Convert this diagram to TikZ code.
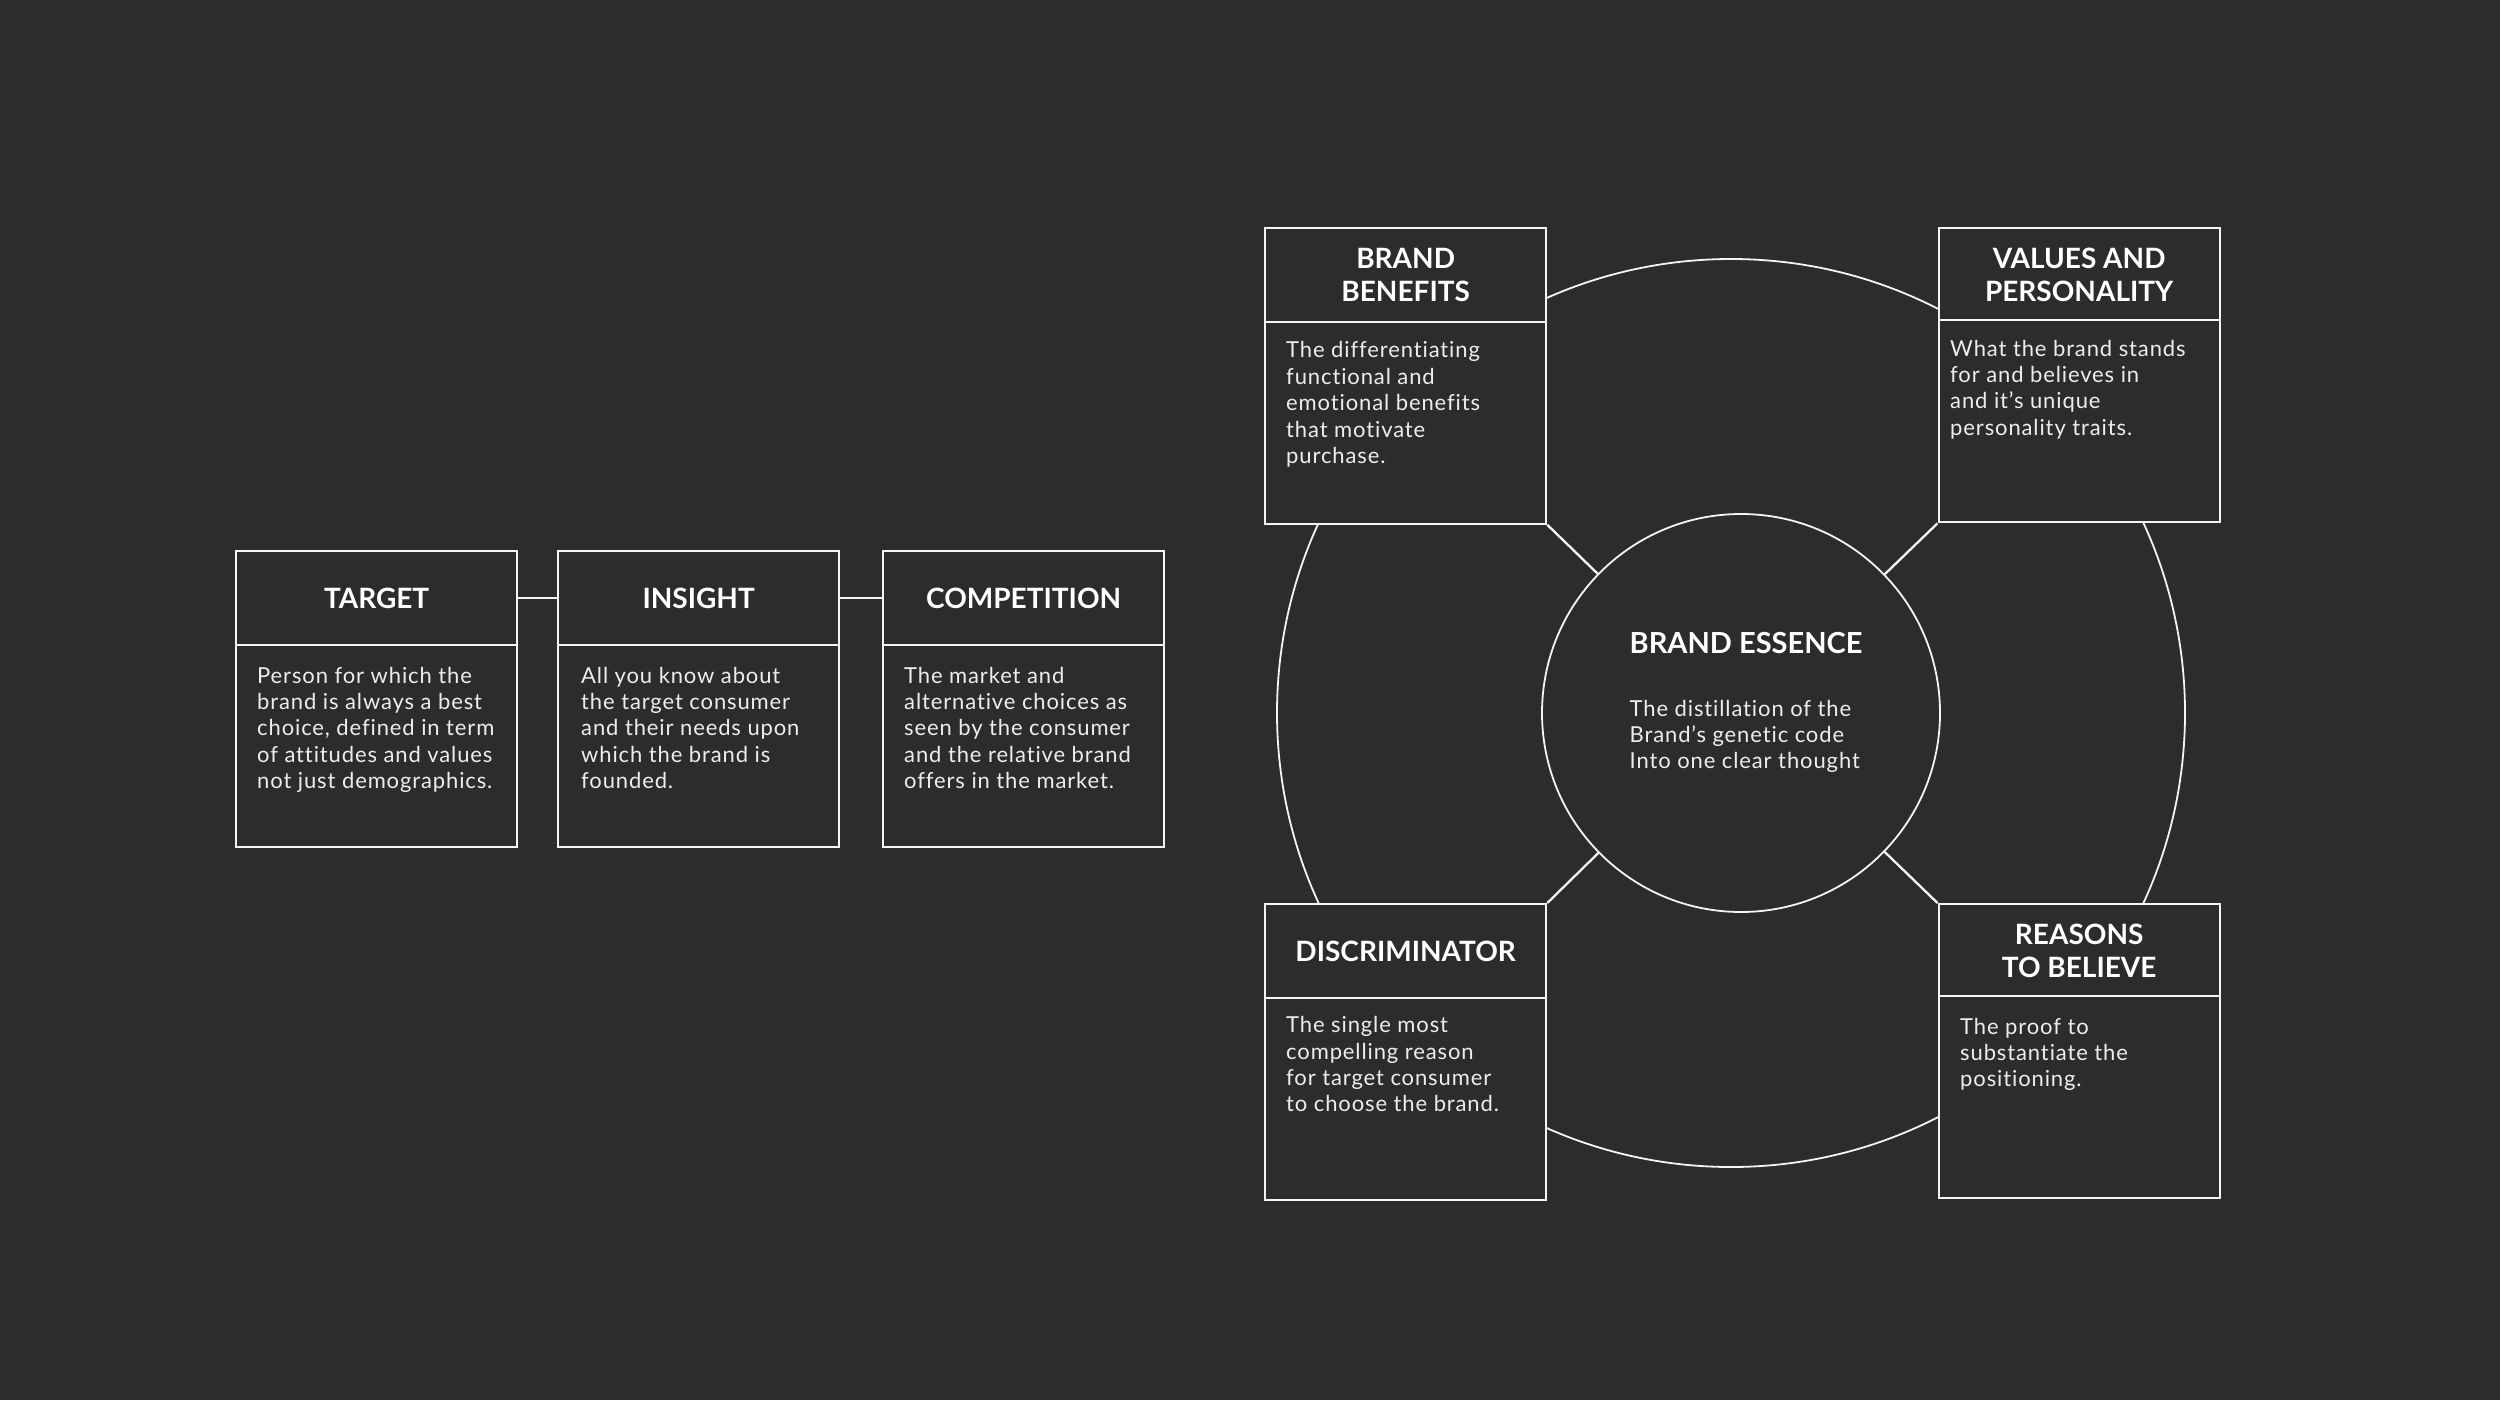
\documentclass[tikz,border=0pt]{standalone}
\usepackage{fontspec}
\setmainfont[Ligatures=NoCommon]{Lato}
\definecolor{bg}{HTML}{2C2C2A}
\definecolor{fg}{HTML}{F4F4F2}
\definecolor{txt}{HTML}{EDEDEB}
\tikzset{
  x=1pt, y=-1pt,
  panel/.style={draw=fg, fill=bg, line width=2.3pt, minimum width=281pt, inner sep=0pt, anchor=north west},
  headbox/.style={panel, minimum height=94pt},
  bodybox/.style={panel, minimum height=202pt},
  ring/.style={draw=fg, line width=1.8pt, circle, inner sep=0pt},
  link/.style={draw=fg, line width=2.3pt},
  headtext/.style={text=white, font=\fontsize{28}{33}\selectfont\bfseries, align=center, inner sep=0pt},
  bodytext/.style={text=txt, font=\fontsize{22}{26.4}\selectfont\addfontfeatures{LetterSpace=4}, align=left, inner sep=0pt, anchor=north west},
}
\begin{document}
\begin{tikzpicture}
\fill[bg] (0,0) rectangle (2500,1400);
\useasboundingbox (0,0) rectangle (2500,1400);

% outer ring and essence circle
\node[ring, minimum size=908pt] (outer) at (1731,713) {};
\node[ring, minimum size=398pt] (ess) at (1741,713) {};

% left row
\node[headbox] (th) at (235,550) {};
\node[bodybox] (tb) at (235,644) {};
\node[headbox] (ih) at (557,550) {};
\node[bodybox] (ib) at (557,644) {};
\node[headbox] (ch) at (882,550) {};
\node[bodybox] (cb) at (882,644) {};
\draw[link] (th.east) -- (ih.west);
\draw[link] (ih.east) -- (ch.west);

\node[headtext] at (th) {TARGET};
\node[headtext] at (ih) {INSIGHT};
\node[headtext] at (ch) {COMPETITION};
\node[bodytext] at (257,664.5) {\strut Person for which the\\brand is always a best\\choice, defined in term\\of attitudes and values\\not just demographics.};
\node[bodytext] at (581,664.5) {\strut All you know about\\the target consumer\\and their needs upon\\which the brand is\\founded.};
\node[bodytext] at (904,664.5) {\strut The market and\\alternative choices as\\seen by the consumer\\and the relative brand\\offers in the market.};

% right cluster
\node[headbox] (bbh) at (1264,227) {};
\node[bodybox] (bbb) at (1264,320.5) {};
\node[headbox] (vph) at (1937.5,227) {};
\node[bodybox] (vpb) at (1937.5,319) {};
\node[headbox] (dh) at (1264,903) {};
\node[bodybox] (db) at (1264,996.5) {};
\node[headbox] (rh) at (1937.5,903) {};
\node[bodybox] (rb) at (1937.5,995) {};

\draw[link] (bbb.south east) -- (ess);
\draw[link] (vpb.south west) -- (ess);
\draw[link] (dh.north east) -- (ess);
\draw[link] (rh.north west) -- (ess);

\node[headtext] at (bbh) {BRAND\\BENEFITS};
\node[headtext] at (vph) {VALUES AND\\PERSONALITY};
\node[headtext] at (dh) {DISCRIMINATOR};
\node[headtext] at (rh) {REASONS\\TO BELIEVE};

\node[bodytext] at (1286,339.2) {\strut The differentiating\\functional and\\emotional benefits\\that motivate\\purchase.};
\node[bodytext] at (1950,337.5) {\strut What the brand stands\\for and believes in\\and it’s unique\\personality traits.};
\node[bodytext] at (1286,1014.1) {\strut The single most\\compelling reason\\for target consumer\\to choose the brand.};
\node[bodytext] at (1960,1015.5) {\strut The proof to\\substantiate the\\positioning.};

\node[headtext, anchor=base west, font=\fontsize{29}{34}\selectfont\bfseries] at (1629.5,653.8) {BRAND ESSENCE};
\node[bodytext, font=\fontsize{22}{26}\selectfont\addfontfeatures{LetterSpace=4}] at (1629.5,697.6) {\strut The distillation of the\\Brand’s genetic code\\Into one clear thought};
\end{tikzpicture}
\end{document}
